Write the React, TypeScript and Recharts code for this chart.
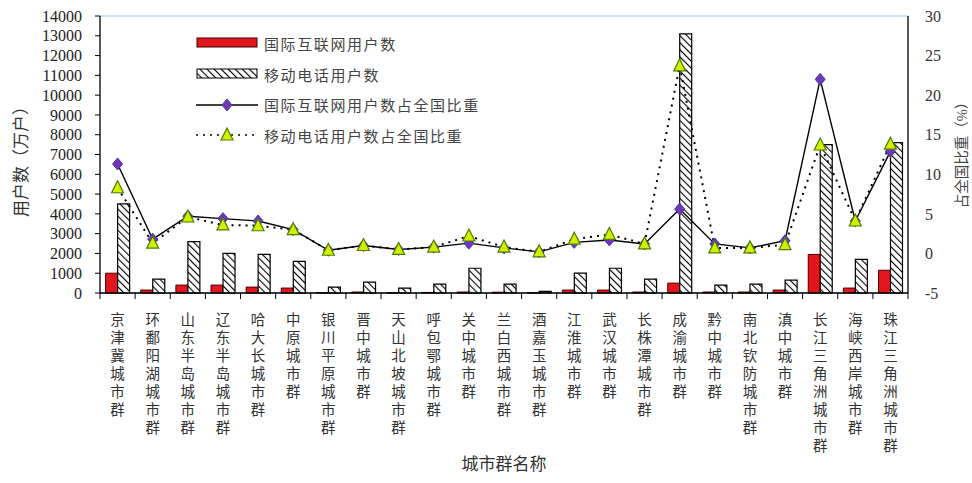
import React from "react";
import {
  ComposedChart,
  Bar,
  Line,
  XAxis,
  YAxis,
  CartesianGrid,
  Legend,
} from "recharts";

const cities = [
  "京津冀城市群",
  "环鄱阳湖城市群",
  "山东半岛城市群",
  "辽东半岛城市群",
  "哈大长城市群",
  "中原城市群",
  "银川平原城市群",
  "晋中城市群",
  "天山北坡城市群",
  "呼包鄂城市群",
  "关中城市群",
  "兰白西城市群",
  "酒嘉玉城市群",
  "江淮城市群",
  "武汉城市群",
  "长株潭城市群",
  "成渝城市群",
  "黔中城市群",
  "南北钦防城市群",
  "滇中城市群",
  "长江三角洲城市群",
  "海峡西岸城市群",
  "珠江三角洲城市群",
];

// 万户
const internetUsers = [1000, 150, 400, 400, 300, 250, 20, 50, 20, 30, 50, 40, 10, 150, 150, 50, 500, 50, 50, 150, 1950, 250, 1150];
const mobileUsers = [4500, 700, 2600, 2000, 1950, 1600, 300, 550, 250, 450, 1250, 450, 80, 1000, 1250, 700, 13100, 400, 450, 650, 7500, 1700, 7600];

// %
const internetShare = [11.3, 1.8, 4.7, 4.4, 4.1, 3.0, 0.4, 1.0, 0.5, 0.8, 1.3, 0.7, 0.2, 1.4, 1.7, 1.2, 5.6, 1.2, 0.7, 1.6, 22.0, 4.1, 12.9];
const mobileShare = [8.3, 1.3, 4.6, 3.6, 3.5, 3.0, 0.4, 1.0, 0.5, 0.8, 2.2, 0.8, 0.2, 1.8, 2.4, 1.2, 23.7, 0.7, 0.7, 1.1, 13.7, 4.1, 13.8];

const leftTicks = [0, 1000, 2000, 3000, 4000, 5000, 6000, 7000, 8000, 9000, 10000, 11000, 12000, 13000, 14000];
const rightTicks = [-5, 0, 5, 10, 15, 20, 25, 30];

const seriesNames = {
  internet: "国际互联网用户数",
  mobile: "移动电话用户数",
  internetShare: "国际互联网用户数占全国比重",
  mobileShare: "移动电话用户数占全国比重",
};

const data = cities.map((city, i) => ({
  city,
  internet: internetUsers[i],
  mobile: mobileUsers[i],
  internetShare: internetShare[i],
  mobileShare: mobileShare[i],
}));

const RED = "#e3161d";
const GRID = "#92cddb";
const PURPLE = "#7536b5";
const YELLOW = "#d2ef00";
const FONT = '"Liberation Serif", "Noto Sans CJK SC", serif';

function Diamond({ cx, cy }: any) {
  if (cx == null || cy == null) return null;
  return (
    <polygon
      points={`${cx},${cy - 6} ${cx + 5},${cy} ${cx},${cy + 6} ${cx - 5},${cy}`}
      fill={PURPLE}
      stroke="#3d3aa8"
      strokeWidth={1}
    />
  );
}

function Triangle({ cx, cy }: any) {
  if (cx == null || cy == null) return null;
  return (
    <polygon
      points={`${cx},${cy - 7} ${cx + 6},${cy + 5} ${cx - 6},${cy + 5}`}
      fill={YELLOW}
      stroke="#4f7d00"
      strokeWidth={1.2}
    />
  );
}

function CityTick(props: any) {
  const { x, y, payload, index } = props;
  const half = payload?.offset ?? 17.5;
  const chars = String(payload.value).split("");
  return (
    <g>
      <line x1={x - half} y1={y} x2={x - half} y2={y + 6} stroke="#000" />
      {index === cities.length - 1 && (
        <line x1={x + half} y1={y} x2={x + half} y2={y + 6} stroke="#000" />
      )}
      {chars.map((c, i) => (
        <text
          key={i}
          x={x}
          y={y + 32 + i * 18}
          textAnchor="middle"
          fontSize={14.5}
          fill="#333"
          fontFamily={FONT}
        >
          {c}
        </text>
      ))}
    </g>
  );
}

function LegendBox() {
  const rows = [
    { key: "internet", label: seriesNames.internet },
    { key: "mobile", label: seriesNames.mobile },
    { key: "internetShare", label: seriesNames.internetShare },
    { key: "mobileShare", label: seriesNames.mobileShare },
  ];
  return (
    <div style={{ width: 290 }}>
      {rows.map((r) => (
        <div key={r.key} style={{ display: "flex", alignItems: "center", height: 30.7 }}>
          <svg width={62} height={16} style={{ flex: "none" }}>
            <defs>
              <pattern id="hatchLegend" width="5" height="5" patternUnits="userSpaceOnUse" patternTransform="rotate(-45)">
                <rect width="5" height="5" fill="#fff" />
                <line x1="0" y1="0" x2="0" y2="5" stroke="#000" strokeWidth="2.2" />
              </pattern>
            </defs>
            {r.key === "internet" && <rect x={1} y={3} width={60} height={9} fill={RED} stroke="#400" />}
            {r.key === "mobile" && <rect x={1} y={3} width={60} height={9} fill="url(#hatchLegend)" stroke="#000" />}
            {r.key === "internetShare" && (
              <>
                <line x1={0} y1={8} x2={62} y2={8} stroke="#000" strokeWidth={1.3} />
                <Diamond cx={31} cy={8} />
              </>
            )}
            {r.key === "mobileShare" && (
              <>
                <line x1={0} y1={8} x2={62} y2={8} stroke="#000" strokeWidth={1.6} strokeDasharray="2 5" />
                <Triangle cx={31} cy={8} />
              </>
            )}
          </svg>
          <span
            style={{
              marginLeft: 6,
              fontSize: 15,
              letterSpacing: 1.6,
              color: "#444",
              fontFamily: FONT,
              whiteSpace: "nowrap",
            }}
          >
            {r.label}
          </span>
        </div>
      ))}
    </div>
  );
}

export default function App() {
  return (
    <div
      style={{
        position: "absolute",
        left: 0,
        top: 0,
        width: 972,
        height: 483,
        background: "#fff",
        fontFamily: FONT,
      }}
    >
      <ComposedChart
        width={972}
        height={483}
        data={data}
        margin={{ top: 16, right: 0, left: 40, bottom: 0 }}
        barCategoryGap="16%"
        barGap={0}
        style={{ fontFamily: FONT }}
      >
        <defs>
          <pattern id="hatch" width="5" height="5" patternUnits="userSpaceOnUse" patternTransform="rotate(-45)">
            <rect width="5" height="5" fill="#fff" />
            <line x1="0" y1="0" x2="0" y2="5" stroke="#000" strokeWidth="2.2" />
          </pattern>
        </defs>
        <CartesianGrid vertical={false} stroke={GRID} strokeWidth={1.2} />
        <XAxis
          dataKey="city"
          interval={0}
          height={190}
          tickSize={0}
          tickMargin={0}
          tickLine={false}
          axisLine={{ stroke: "#000", strokeWidth: 1.3 }}
          tick={(p: any) => <CityTick {...p} />}
          label={(p: any) => {
            const vb = p.viewBox || { x: 100, y: 293, width: 808 };
            return (
              <text x={vb.x + vb.width / 2} y={vb.y + 177} textAnchor="middle" fontSize={17} fill="#333" fontFamily={FONT}>
                城市群名称
              </text>
            );
          }}
        />
        <YAxis
          yAxisId="left"
          orientation="left"
          width={60}
          domain={[0, 14000]}
          ticks={leftTicks}
          interval={0}
          tickSize={5}
          tickMargin={13}
          tickLine={{ stroke: "#000" }}
          axisLine={{ stroke: "#000", strokeWidth: 1.3 }}
          tick={{ fill: "#222", fontSize: 16, fontFamily: FONT }}
          label={(p: any) => {
            const vb = p.viewBox || { x: 40, y: 16, height: 277 };
            const cx = vb.x - 13;
            const cy = vb.y + vb.height / 2 + 3;
            return (
              <text x={cx} y={cy} transform={`rotate(-90 ${cx} ${cy})`} textAnchor="middle" fontSize={17} fill="#333" fontFamily={FONT}>
                用户数（万户）
              </text>
            );
          }}
        />
        <YAxis
          yAxisId="right"
          orientation="right"
          width={64}
          domain={[-5, 30]}
          ticks={rightTicks}
          interval={0}
          tickSize={0}
          tickMargin={17}
          tickLine={false}
          axisLine={{ stroke: "#000", strokeWidth: 1.3 }}
          tick={{ fill: "#333", fontSize: 16, fontFamily: FONT, textAnchor: "start" }}
          label={(p: any) => {
            const vb = p.viewBox || { x: 908, y: 16, height: 277 };
            const cx = vb.x + 59;
            const cy = vb.y + vb.height / 2 - 3;
            return (
              <text x={cx} y={cy} transform={`rotate(-90 ${cx} ${cy})`} textAnchor="middle" fontSize={14.5} fill="#444" fontFamily={FONT}>
                占全国比重（%）
              </text>
            );
          }}
        />
        <Legend
          layout="vertical"
          align="center"
          verticalAlign="middle"
          content={() => <LegendBox />}
          wrapperStyle={{ position: "absolute", left: 196, top: 28, width: 290 }}
        />
        <Bar
          yAxisId="left"
          dataKey="internet"
          name={seriesNames.internet}
          fill={RED}
          stroke="#4a0000"
          strokeWidth={1}
          isAnimationActive={false}
        />
        <Bar
          yAxisId="left"
          dataKey="mobile"
          name={seriesNames.mobile}
          fill="url(#hatch)"
          stroke="#000"
          strokeWidth={1.2}
          isAnimationActive={false}
        />
        <Line
          yAxisId="right"
          dataKey="mobileShare"
          name={seriesNames.mobileShare}
          type="linear"
          stroke="#000"
          strokeWidth={2}
          strokeDasharray="2 5"
          dot={false}
          activeDot={false}
          isAnimationActive={false}
        />
        <Line
          yAxisId="right"
          dataKey="internetShare"
          name={seriesNames.internetShare}
          type="linear"
          stroke="#000"
          strokeWidth={1.4}
          dot={(p: any) => <Diamond key={`d${p.index}`} {...p} />}
          activeDot={false}
          isAnimationActive={false}
        />
        <Line
          yAxisId="right"
          dataKey="mobileShare"
          name={seriesNames.mobileShare}
          type="linear"
          stroke="none"
          dot={(p: any) => <Triangle key={`t${p.index}`} {...p} />}
          activeDot={false}
          legendType="none"
          isAnimationActive={false}
        />
      </ComposedChart>
    </div>
  );
}
